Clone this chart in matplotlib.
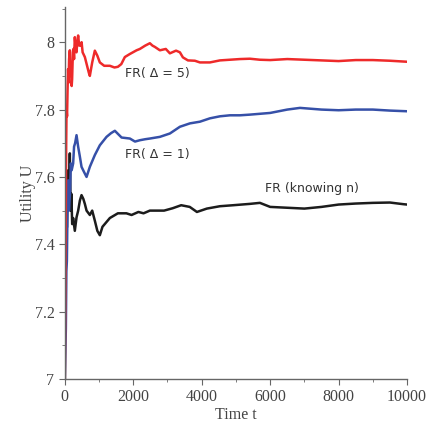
import numpy as np
import matplotlib.pyplot as plt
from matplotlib.ticker import MultipleLocator, FuncFormatter

# values
red_t = [0, 20, 40, 50, 65, 80, 95, 110, 125, 146, 165, 180, 200, 213, 235,
         250, 270, 292, 320, 340, 365, 389, 420, 456, 490, 520, 585, 650, 700,
         731, 800, 877, 950, 1023, 1150, 1316, 1450, 1550, 1650, 1754, 1900,
         2096, 2193, 2350, 2485, 2560, 2632, 2778, 2950, 3070, 3250, 3363,
         3450, 3597, 3800, 3947, 4240, 4532, 4825, 5117, 5409, 5700, 6000,
         6500, 7000, 7500, 8000, 8500, 9000, 9500, 10000]
red_u = [7.0, 7.35, 7.7, 7.80, 7.78, 7.86, 7.92, 7.88, 7.95, 7.976, 7.90,
         7.94, 7.87, 7.89, 7.97, 7.98, 7.95, 8.015, 7.98, 7.97, 8.0, 8.02,
         7.99, 7.99, 8.0, 7.97, 7.956, 7.93, 7.91, 7.90, 7.94, 7.975, 7.96,
         7.94, 7.93, 7.93, 7.925, 7.927, 7.935, 7.956, 7.965, 7.976, 7.98,
         7.99, 7.997, 7.99, 7.986, 7.976, 7.98, 7.967, 7.975, 7.97, 7.955,
         7.946, 7.945, 7.94, 7.94, 7.946, 7.948, 7.95, 7.951, 7.948, 7.947,
         7.95, 7.948, 7.946, 7.944, 7.947, 7.947, 7.945, 7.942]

blue_t = [0, 30, 45, 60, 80, 96, 120, 150, 175, 200, 243, 270, 300, 342, 389,
          440, 488, 560, 635, 731, 877, 1023, 1219, 1350, 1462, 1658, 1901,
          2050, 2193, 2350, 2485, 2778, 3070, 3363, 3655, 3947, 4240, 4532,
          4825, 5117, 5409, 6000, 6500, 6871, 7500, 8000, 8500, 9000, 9500,
          10000]
blue_u = [7.0, 7.15, 7.32, 7.35, 7.52, 7.59, 7.50, 7.55, 7.64, 7.62, 7.64,
          7.69, 7.70, 7.724, 7.69, 7.66, 7.63, 7.615, 7.60, 7.63, 7.665, 7.694,
          7.719, 7.73, 7.737, 7.717, 7.714, 7.705, 7.709, 7.712, 7.714, 7.719,
          7.729, 7.749, 7.759, 7.764, 7.774, 7.78, 7.783, 7.783, 7.785, 7.79,
          7.80, 7.805, 7.80, 7.798, 7.80, 7.80, 7.797, 7.795]

black_t = [0, 15, 30, 45, 60, 80, 100, 120, 146, 170, 190, 215, 243, 292,
           342, 390, 440, 488, 540, 585, 635, 731, 800, 877, 950, 1023, 1100,
           1316, 1550, 1800, 1950, 2150, 2300, 2485, 2900, 3150, 3400, 3650,
           3860, 4150, 4530, 4920, 5409, 5700, 6000, 6400, 7000, 7500, 8000,
           8500, 9000, 9500, 9900, 10000]
black_u = [7.0, 7.75, 7.55, 7.60, 7.45, 7.56, 7.62, 7.52, 7.67, 7.50, 7.55,
           7.46, 7.478, 7.44, 7.48, 7.50, 7.53, 7.546, 7.535, 7.52, 7.50,
           7.487, 7.50, 7.47, 7.44, 7.427, 7.452, 7.478, 7.492, 7.492, 7.487,
           7.496, 7.492, 7.50, 7.50, 7.507, 7.516, 7.511, 7.496, 7.506, 7.513,
           7.516, 7.52, 7.523, 7.511, 7.509, 7.506, 7.511, 7.518, 7.521, 7.523,
           7.524, 7.519, 7.518]

labels = ['FR( \u0394 = 5)', 'FR( \u0394 = 1)', 'FR (knowing n)']
label_pos = [(1750, 7.908), (1750, 7.668), (5850, 7.565)]

fig = plt.figure(figsize=(4.41, 4.23), dpi=100)
ax = fig.add_axes([0.147, 0.104, 0.776, 0.879])

ax.plot(black_t, black_u, color='#1c1c1c', lw=1.8)
ax.plot(blue_t, blue_u, color='#3650a8', lw=1.8)
ax.plot(red_t, red_u, color='#ee2a2a', lw=1.8)

for txt, (x, y) in zip(labels, label_pos):
    ax.text(x, y, txt, fontsize=9, color='#333333', va='center', ha='left',
            family='DejaVu Sans')

ax.set_xlim(0, 10000)
ax.set_ylim(7, 8.104)
ax.spines['top'].set_visible(False)
ax.spines['right'].set_visible(False)
for s in ['left', 'bottom']:
    ax.spines[s].set_color('#666666')
    ax.spines[s].set_linewidth(1.0)

ax.xaxis.set_major_locator(MultipleLocator(2000))
ax.xaxis.set_minor_locator(MultipleLocator(1000))
ax.yaxis.set_major_locator(MultipleLocator(0.2))
ax.yaxis.set_minor_locator(MultipleLocator(0.1))
ax.yaxis.set_major_formatter(FuncFormatter(lambda v, p: '%g' % round(v, 2)))
ax.tick_params(which='major', direction='out', length=4, color='#666666',
               labelsize=11.5, labelcolor='#444444')
ax.tick_params(which='minor', direction='out', length=2, color='#666666')
for lab in ax.get_xticklabels() + ax.get_yticklabels():
    lab.set_family('Liberation Serif')

ax.set_xlabel('Time t', family='Liberation Serif', fontsize=11.5,
              color='#444444', labelpad=1)
ax.set_ylabel('Utility U', family='Liberation Serif', fontsize=11.5,
              color='#444444', labelpad=-1)

plt.savefig('out.png')
plt.close()
